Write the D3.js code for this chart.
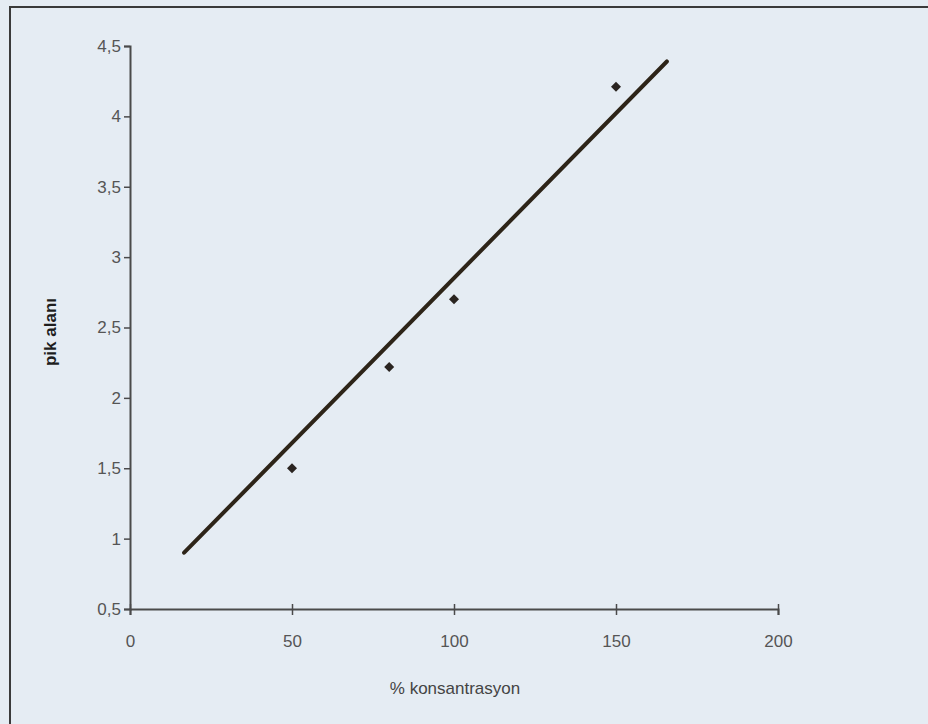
<!DOCTYPE html>
<html><head><meta charset="utf-8">
<script src="https://cdn.jsdelivr.net/npm/d3@7"></script>
<style>
html,body{margin:0;padding:0;background:#e5ecf3;}
svg{display:block;}
</style></head>
<body>
<svg id="chart" width="928" height="724"></svg>
<script>
// Data
const concentrations = [50, 80, 100, 150];
const peakAreas = [1.5, 2.22, 2.7, 4.21];
const trendX = [16.7, 165.7];
const trendY = [0.9, 4.39];
const xTicks = [0, 50, 100, 150, 200];
const yTicks = [0.5, 1, 1.5, 2, 2.5, 3, 3.5, 4, 4.5];
const xTitle = "% konsantrasyon";
const yTitle = "pik alanı";

const svg = d3.select("#chart");
svg.append("rect").attr("x",0).attr("y",0).attr("width",928).attr("height",724).attr("fill","#e5ecf3");
// frame
svg.append("rect").attr("x",10).attr("y",7).attr("width",930).attr("height",730)
  .attr("fill","none").attr("stroke","#3a3a3a").attr("stroke-width",2);

const x = d3.scaleLinear().domain([0,200]).range([130,778]);
const y = d3.scaleLinear().domain([0.5,4.5]).range([609,46]);

const fmt = d => String(d).replace(".", ",");
const axisColor = "#4a4a4a";

const gx = svg.append("g").attr("transform","translate(0,609)")
  .call(d3.axisBottom(x).tickValues(xTicks).tickFormat(fmt).tickSize(6).tickPadding(20));
const gy = svg.append("g").attr("transform","translate(130,0)")
  .call(d3.axisLeft(y).tickValues(yTicks).tickFormat(fmt).tickSize(6).tickPadding(3));
[gx, gy].forEach(g => {
  g.select(".domain").attr("stroke", axisColor).attr("stroke-width", 2);
  g.selectAll(".tick line").attr("stroke", axisColor).attr("stroke-width", 1.5);
  g.selectAll(".tick text").attr("fill","#555").attr("font-family","Liberation Sans, Arial, sans-serif").attr("font-size",17);
});
gx.selectAll(".tick line").attr("y1",-5).attr("y2",6);

// trend line
svg.append("line")
  .attr("x1", x(trendX[0])).attr("y1", y(trendY[0]))
  .attr("x2", x(trendX[1])).attr("y2", y(trendY[1]))
  .attr("stroke","#2d2418").attr("stroke-width",4).attr("stroke-linecap","round");

// points
svg.selectAll("path.pt").data(concentrations).join("path")
  .attr("class","pt")
  .attr("transform",(d,i)=>`translate(${x(d)},${y(peakAreas[i])}) rotate(45)`)
  .attr("d", d3.symbol().type(d3.symbolSquare).size(50))
  .attr("fill","#2a2420");

// titles
svg.append("text").attr("x",455).attr("y",694).attr("text-anchor","middle")
  .attr("font-family","Liberation Sans, Arial, sans-serif").attr("font-size",17).attr("fill","#444")
  .text(xTitle);
svg.append("text").attr("transform","translate(56,332) rotate(-90)").attr("text-anchor","middle")
  .attr("font-family","Liberation Sans, Arial, sans-serif").attr("font-size",17).attr("font-weight","bold").attr("fill","#1e1e1e")
  .text(yTitle);
</script>
</body></html>
